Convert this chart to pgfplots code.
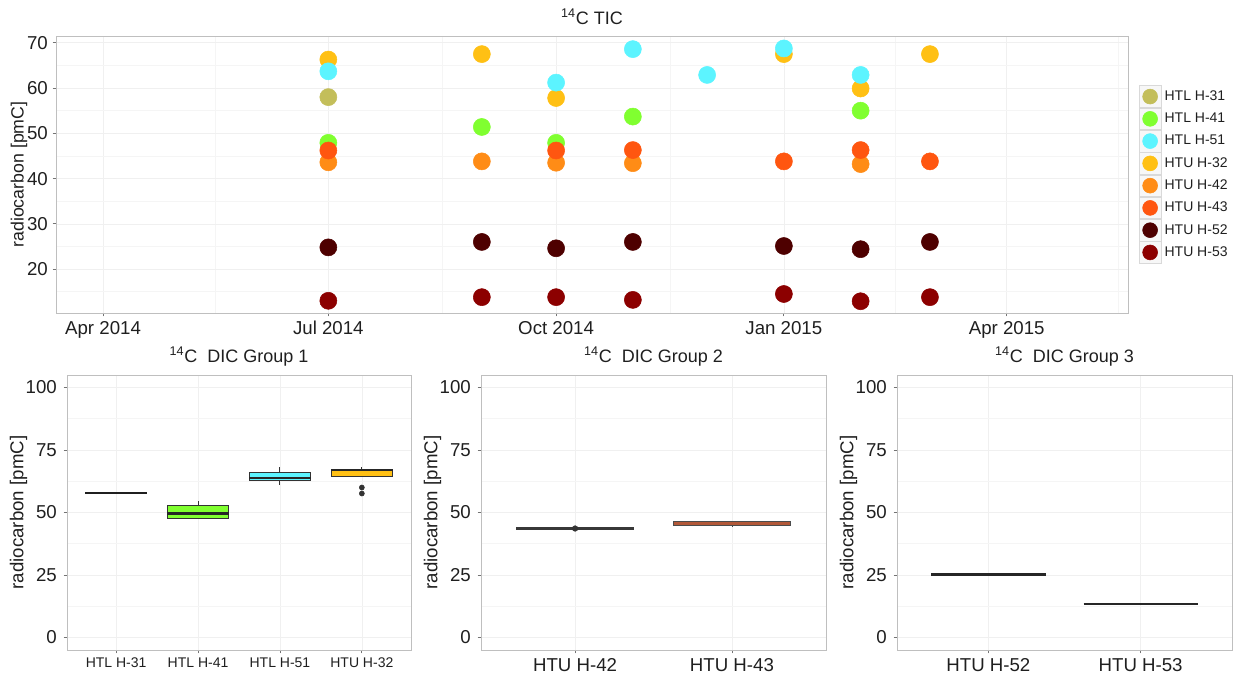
\documentclass[border=0pt]{standalone}
\usepackage{pgfplots}
\pgfplotsset{compat=1.18}
\usepackage{fontspec}
\setmainfont{Liberation Sans}
\definecolor{cA}{RGB}{195,190,90}
\definecolor{cB}{RGB}{128,255,48}
\definecolor{cC}{RGB}{92,244,255}
\definecolor{cD}{RGB}{255,192,20}
\definecolor{cE}{RGB}{255,140,22}
\definecolor{cF}{RGB}{255,86,16}
\definecolor{cG}{RGB}{78,0,0}
\definecolor{cH}{RGB}{140,0,0}
\definecolor{cFbox}{RGB}{178,88,56}
\pgfplotsset{
  ggbase/.style={
    scale only axis,
    axis line style={black!25, line width=0.6pt},
    tick style={black!55, line width=0.6pt},
    major tick length=2.6pt,
    minor tick length=0pt,
    tick align=outside,
    xtick pos=lower, ytick pos=left,
    grid=both,
    major grid style={black!6, line width=0.5pt},
    minor grid style={black!4, line width=0.4pt},
    /pgf/number format/assume math mode=true,
    tick label style={font=\fontsize{14}{16}\selectfont, text=black!88},
    label style={font=\fontsize{14}{17}\selectfont, text=black!88},
    title style={font=\fontsize{13.5}{16}\selectfont, text=black!88},
  },
  legkey/.style={legend image code/.code={
    \draw[black!15, fill=black!3, line width=0.5pt] (0pt,-8.1pt) rectangle (16.2pt,8.1pt);
    \fill[#1] (8.1pt,0pt) circle (5.6pt);}},
  dot/.style={only marks, mark=*, mark size=6.4pt, color=#1, mark options={draw=#1, fill=#1}, forget plot},
  bline/.style={draw=black!80, line width=0.7pt, mark=none, forget plot},
  bbox/.style={draw=black!80, fill=#1, line width=0.7pt, mark=none, forget plot},
  bmed/.style={draw=black!85, line width=1.6pt, mark=none, forget plot},
}
\begin{document}
\begin{tikzpicture}
\path[use as bounding box] (0,0) rectangle (926.25pt,-506.25pt);
% ---------------- top panel ----------------
\begin{axis}[ggbase,
  at={(42pt,-27pt)}, anchor=north west,
  width=804pt, height=207.75pt,
  title={\textsuperscript{14}C TIC},
  title style={yshift=-1pt},
  xmin=71, xmax=504, ymin=10.3, ymax=71.5,
  xtick={90,181,273,365,455},
  xticklabels={Apr 2014,Jul 2014,Oct 2014,Jan 2015,Apr 2015},
  minor xtick={135.5,227,319,410,500},
  ytick={20,30,40,50,60,70},
  minor ytick={15,25,35,45,55,65},
  ylabel={radiocarbon [pmC]},
  ylabel style={font=\fontsize{13.3}{16}\selectfont, yshift=-7pt},
  legend style={at={(1.01,0.5)}, anchor=west, draw=none, fill=none,
    font=\fontsize{10.5}{12}\selectfont, row sep=0pt, inner sep=0pt,
    nodes={inner sep=0pt, text=black!88},
    /tikz/every odd column/.append style={column sep=2.5pt}},
  legend cell align=left,
]
\addlegendimage{legkey=cA}\addlegendentry{HTL H-31}
\addlegendimage{legkey=cB}\addlegendentry{HTL H-41}
\addlegendimage{legkey=cC}\addlegendentry{HTL H-51}
\addlegendimage{legkey=cD}\addlegendentry{HTU H-32}
\addlegendimage{legkey=cE}\addlegendentry{HTU H-42}
\addlegendimage{legkey=cF}\addlegendentry{HTU H-43}
\addlegendimage{legkey=cG}\addlegendentry{HTU H-52}
\addlegendimage{legkey=cH}\addlegendentry{HTU H-53}
% HTL H-31
\addplot[dot=cA] coordinates {(181,58.0)};
% HTL H-41
\addplot[dot=cB] coordinates {(181,47.9) (243,51.4) (273,47.9) (304,53.7) (396,55.0)};
% HTU H-32
\addplot[dot=cD] coordinates {(181,66.3) (243,67.5) (273,57.8) (365,67.5) (396,59.9) (424,67.5)};
% HTL H-51
\addplot[dot=cC] coordinates {(181,63.7) (273,61.2) (304,68.6) (334,62.9) (365,68.75) (396,62.9)};
% HTU H-42
\addplot[dot=cE] coordinates {(181,43.6) (243,43.8) (273,43.5) (304,43.4) (396,43.2)};
% HTU H-43
\addplot[dot=cF] coordinates {(181,46.2) (273,46.2) (304,46.3) (365,43.8) (396,46.3) (424,43.8)};
% HTU H-52
\addplot[dot=cG] coordinates {(181,24.8) (243,26.0) (273,24.6) (304,26.0) (365,25.1) (396,24.4) (424,26.0)};
% HTU H-53
\addplot[dot=cH] coordinates {(181,13.0) (243,13.8) (273,13.8) (304,13.2) (365,14.5) (396,12.9) (424,13.8)};
\end{axis}
% ---------------- DIC group 1 ----------------
\begin{axis}[ggbase,
  at={(50.25pt,-281.25pt)}, anchor=north west,
  width=258pt, height=206.25pt,
  title={\textsuperscript{14}C\ \ DIC Group 1},
  title style={yshift=-3pt},
  xmin=0.4, xmax=4.6, ymin=-5, ymax=105,
  xtick={1,2,3,4}, xticklabels={HTL H-31,HTL H-41,HTL H-51,HTU H-32},
  x tick label style={font=\fontsize{10.5}{12}\selectfont},
  ytick={0,25,50,75,100}, minor ytick={12.5,37.5,62.5,87.5},
  yticklabel style={xshift=-1.5pt},
  ylabel={radiocarbon [pmC]},
  ylabel style={yshift=-8pt},
]
% whiskers
\addplot[bline] coordinates {(2,52.9) (2,54.7)};
\addplot[bline] coordinates {(3,66.1) (3,68.3)};
\addplot[bline] coordinates {(3,62.7) (3,61.1)};
\addplot[bline] coordinates {(4,67.4) (4,68.3)};
% boxes
\addplot[bbox=cB] coordinates {(1.625,47.6) (2.375,47.6) (2.375,52.9) (1.625,52.9) (1.625,47.6)};
\addplot[bbox=cC] coordinates {(2.625,62.7) (3.375,62.7) (3.375,66.1) (2.625,66.1) (2.625,62.7)};
\addplot[bbox=cD] coordinates {(3.625,64.6) (4.375,64.6) (4.375,67.4) (3.625,67.4) (3.625,64.6)};
% medians
\addplot[draw=black!88, line width=1.5pt, mark=none, forget plot] coordinates {(0.625,58) (1.375,58)};
\addplot[bmed] coordinates {(1.625,49.6) (2.375,49.6)};
\addplot[bmed] coordinates {(2.625,63.7) (3.375,63.7)};
\addplot[bmed] coordinates {(3.625,66.9) (4.375,66.9)};
% outliers
\addplot[only marks, mark=*, mark size=1.9pt, black!80] coordinates {(4,60.0) (4,57.6)};
\end{axis}
% ---------------- DIC group 2 ----------------
\begin{axis}[ggbase,
  at={(360.75pt,-281.25pt)}, anchor=north west,
  width=258.75pt, height=206.25pt,
  title={\textsuperscript{14}C\ \ DIC Group 2},
  title style={yshift=-3pt},
  xmin=0.4, xmax=2.6, ymin=-5, ymax=105,
  xtick={1,2}, xticklabels={HTU H-42,HTU H-43},
  ytick={0,25,50,75,100}, minor ytick={12.5,37.5,62.5,87.5},
  yticklabel style={xshift=-1.5pt},
  ylabel={radiocarbon [pmC]},
  ylabel style={yshift=-8pt},
]
\addplot[draw=black!75, line width=0.5pt, mark=none, forget plot] coordinates {(2,45.0) (2,44.3)};
\addplot[draw=black!78, line width=1.6pt, mark=none, forget plot] coordinates {(0.625,43.6) (1.375,43.6)};
\addplot[draw=black!70, fill=cFbox, line width=0.6pt, mark=none, forget plot] coordinates {(1.625,44.9) (2.375,44.9) (2.375,46.5) (1.625,46.5) (1.625,44.9)};
\addplot[only marks, mark=*, mark size=2.1pt, black!80] coordinates {(1,43.6)};
\end{axis}
% ---------------- DIC group 3 ----------------
\begin{axis}[ggbase,
  at={(672.75pt,-281.25pt)}, anchor=north west,
  width=251.25pt, height=206.25pt,
  title={\textsuperscript{14}C\ \ DIC Group 3},
  title style={yshift=-3pt},
  xmin=0.4, xmax=2.6, ymin=-5, ymax=105,
  xtick={1,2}, xticklabels={HTU H-52,HTU H-53},
  ytick={0,25,50,75,100}, minor ytick={12.5,37.5,62.5,87.5},
  yticklabel style={xshift=-1.5pt},
  ylabel={radiocarbon [pmC]},
  ylabel style={yshift=-8pt},
]
\addplot[draw=black!85, fill=cG, line width=0.8pt, mark=none, forget plot] coordinates {(0.625,25.0) (1.375,25.0) (1.375,25.7) (0.625,25.7) (0.625,25.0)};
\addplot[draw=black!85, line width=1.8pt, mark=none, forget plot] coordinates {(1.625,13.3) (2.375,13.3)};
\end{axis}
\end{tikzpicture}
\end{document}
